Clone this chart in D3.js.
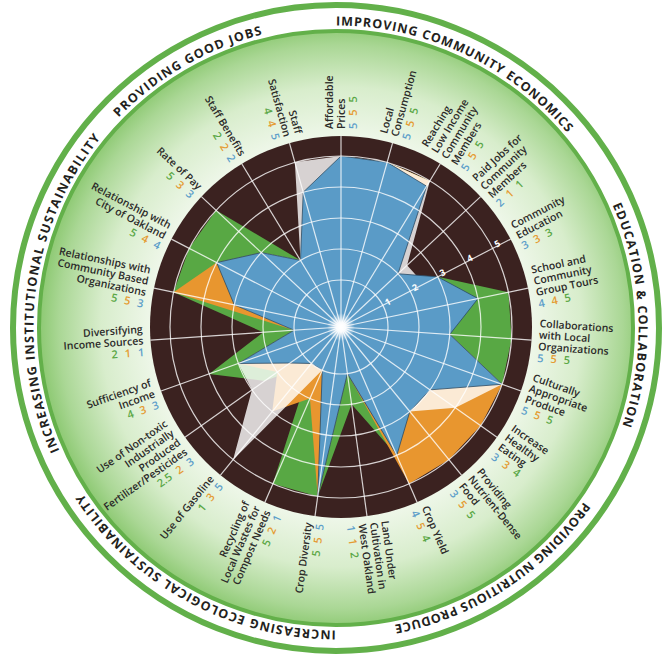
<!DOCTYPE html>
<html>
<head>
<meta charset="utf-8">
<script src="https://cdn.jsdelivr.net/npm/d3@7"></script>
<style>
body { margin: 0; background: #fff; }
text { font-family: "Open Sans", "Noto Sans", sans-serif; }
</style>
</head>
<body>
<svg id="chart" width="671" height="655"></svg>
<script>
/* categories, clockwise from the top */
var categories = [
	["Affordable","Prices"],
	["Local","Consumption"],
	["Reaching","Low Income","Community","Members"],
	["Paid Jobs for","Community","Members"],
	["Community","Education"],
	["School and","Community","Group Tours"],
	["Collaborations","with Local","Organizations"],
	["Culturally","Appropriate","Produce"],
	["Increase","Healthy","Eating"],
	["Providing","Nutrient-Dense","Food"],
	["Crop Yield"],
	["Land Under","Cultivation in","West Oakland"],
	["Crop Diversity"],
	["Recycling of","Local Wastes for","Compost Needs"],
	["Use of Gasoline"],
	["Use of Non-toxic","Industrially","Produced","Fertilizer/Pesticides"],
	["Sufficiency of","Income"],
	["Diversifying","Income Sources"],
	["Relationships with","Community Based","Organizations"],
	["Relationship with","City of Oakland"],
	["Rate of Pay"],
	["Staff Benefits"],
	["Staff","Satisfaction"]
];

/* printed scores next to each label */
var scoreBlue   = ["5","5","5","2","3","4","5","5","3","3","4","1","5","1","5","3","3","1","3","4","3","2","5"];
var scoreOrange = ["5","5","5","1","3","4","5","5","3","5","5","1","5","2","3","2","3","1","5","4","3","2","4"];
var scoreGreen  = ["5","5","5","1","3","5","5","5","4","5","4","2","5","5","1","2.5","4","2","5","5","5","2","4"];

/* polygon values as drawn */
var polyGreen  = [5,5,5,1,3,5,5,5,4,5,4,2,5,5,1,2.5,4,2,5,5,5,2,4];
var polyOrange = [5,5,5,1,3,3,3,5,5,5,5,1,5,2,3,2,3,1,5,4,3,2,4];
var polyLight  = [5,5,5,2.4,2.5,3,3,5,4,3,3,1,3,1,5,3,3,1,3,3,3,2,5];
var polyBlue   = [5,5,4.8,2,3,4,3,5,3,3,4,1,5,1,1,1.5,3,1,3,4,3,2,4];

var ringTicks = [1,2,3,4,5];

var groups = [
	{name: "PROVIDING GOOD JOBS", from: 314, to: 346},
	{name: "IMPROVING COMMUNITY ECONOMICS", from: 0, to: 50},
	{name: "EDUCATION & COLLABORATION", from: 66, to: 109},
	{name: "PROVIDING NUTRITIOUS PRODUCE", from: 125, to: 169},
	{name: "INCREASING ECOLOGICAL SUSTAINABILITY", from: 180, to: 237},
	{name: "INCREASING INSTITUTIONAL SUSTAINABILITY", from: 246, to: 309}
];

var svg = d3.select("#chart");
var cx = 341, cy = 327;          // radar centre
var ox = 336, oy = 328;          // outer badge centre
var rDisk = 191;
var n = categories.length;

var r = d3.scaleLinear().domain([0, 5]).range([16, 171]);
var ang = d3.scaleLinear().domain([0, n]).range([0, 2*Math.PI]);

var defs = svg.append("defs");
var bg = defs.append("radialGradient").attr("id", "bgGrad")
	.attr("cx", cx).attr("cy", cy).attr("r", 300).attr("gradientUnits", "userSpaceOnUse");
bg.append("stop").attr("offset", "0.6").attr("stop-color", "#f3f9ef");
bg.append("stop").attr("offset", "0.8").attr("stop-color", "#d8edcc");
bg.append("stop").attr("offset", "0.94").attr("stop-color", "#aad795");
bg.append("stop").attr("offset", "1").attr("stop-color", "#8fca75");

var glow = defs.append("radialGradient").attr("id", "glow");
glow.append("stop").attr("offset", "0").attr("stop-color", "#fff").attr("stop-opacity", 1);
glow.append("stop").attr("offset", "0.35").attr("stop-color", "#fff").attr("stop-opacity", 0.9);
glow.append("stop").attr("offset", "1").attr("stop-color", "#fff").attr("stop-opacity", 0);

/* badge */
svg.append("circle").attr("cx", ox).attr("cy", oy).attr("r", 323)
	.attr("fill", "#fff").attr("stroke", "#62b04a").attr("stroke-width", 6);
svg.append("circle").attr("cx", ox).attr("cy", oy).attr("r", 297)
	.attr("fill", "url(#bgGrad)").attr("stroke", "#63b04a").attr("stroke-width", 4);

/* group titles on a circle */
var tr = 302.5;
defs.append("path").attr("id", "titlePath")
	.attr("d", "M" + ox + "," + (oy - tr) + " A" + tr + "," + tr + " 0 1,1 " + ox + "," + (oy + tr)
		+ " A" + tr + "," + tr + " 0 1,1 " + ox + "," + (oy - tr));
groups.forEach(function(g){
	var mid = (g.from + g.to)/2;
	svg.append("text")
		.attr("font-size", 12.5).attr("font-weight", 700).attr("fill", "#231f20")
		.attr("letter-spacing", 1)
		.append("textPath").attr("href", "#titlePath")
		.attr("startOffset", (mid*Math.PI/180*tr).toFixed(1))
		.attr("text-anchor", "middle")
		.attr("textLength", ((g.to - g.from)*Math.PI/180*tr).toFixed(1))
		.attr("lengthAdjust", "spacing")
		.text(g.name);
});

/* dark disk */
svg.append("circle").attr("cx", cx).attr("cy", cy).attr("r", rDisk).attr("fill", "#3b2220");

var plot = svg.append("g").attr("transform", "translate(" + cx + "," + cy + ")");

function poly(vals, fill, stroke, op){
	var line = d3.lineRadial()
		.angle(function(d, i){ return ang(i); })
		.radius(function(d){ return r(d); })
		.curve(d3.curveLinearClosed);
	plot.append("path").attr("d", line(vals))
		.attr("fill", fill).attr("fill-opacity", op || 1)
		.attr("stroke", stroke || "none").attr("stroke-width", 0.8);
}
poly(polyGreen, "#58a844");
poly(polyOrange, "#e8962f");
poly(polyLight, "#ffffff", null, 0.8);
poly(polyBlue, "#5a9bc7", "#2c4a63");

/* grid */
plot.selectAll(".ring").data(ringTicks).enter().append("circle")
	.attr("r", function(d){ return r(d); })
	.attr("fill", "none").attr("stroke", "#fff").attr("stroke-opacity", 0.8).attr("stroke-width", 1.2);
plot.selectAll(".spoke").data(d3.range(n)).enter().append("line")
	.attr("x1", 0).attr("y1", 0)
	.attr("x2", function(i){ return Math.sin(ang(i))*rDisk; })
	.attr("y2", function(i){ return -Math.cos(ang(i))*rDisk; })
	.attr("stroke", "#fff").attr("stroke-opacity", 0.8).attr("stroke-width", 1.2);
plot.append("circle").attr("r", 14).attr("fill", "url(#glow)");

/* ring numbers */
var tickAng = 62*Math.PI/180;
plot.selectAll(".tick").data(ringTicks).enter().append("text")
	.attr("transform", function(d){
		var rr = r(d) + 6;
		return "translate(" + (Math.sin(tickAng)*rr) + "," + (-Math.cos(tickAng)*rr) + ")rotate(-28)";
	})
	.attr("text-anchor", "middle").attr("dy", 3)
	.attr("font-size", 9).attr("font-weight", 700).attr("fill", "#fff")
	.text(function(d){ return d; });

/* category labels */
var lh = 11.5, r0 = 198;
categories.forEach(function(lines, i){
	var deg = ang(i)*180/Math.PI;
	var left = deg > 180.5;
	var rot = left ? deg + 90 : deg - 90;
	var a = ang(i);
	var g = plot.append("g")
		.attr("transform", "translate(" + (Math.sin(a)*r0) + "," + (-Math.cos(a)*r0) + ")rotate(" + rot + ")");
	var all = lines.length + 1;
	lines.forEach(function(t, k){
		g.append("text")
			.attr("x", 0).attr("y", (k - (all-1)/2)*lh + 3.8)
			.attr("text-anchor", left ? "end" : "start")
			.attr("font-size", 10.5).attr("font-weight", 600).attr("fill", "#2b2a29")
			.text(t);
	});
	var nums = g.append("text")
		.attr("x", 0).attr("y", (lines.length - (all-1)/2)*lh + 4.2)
		.attr("text-anchor", left ? "end" : "start")
		.attr("font-size", 11).attr("font-weight", 600);
	var order = [[scoreBlue[i], "#5e9fca"], [scoreOrange[i], "#e59b32"], [scoreGreen[i], "#5aa746"]];
	if (left) order.reverse();
	order.forEach(function(o, k){
		nums.append("tspan").attr("dx", k ? 7 : 0).attr("fill", o[1]).text(o[0]);
	});
});
</script>
</body>
</html>
